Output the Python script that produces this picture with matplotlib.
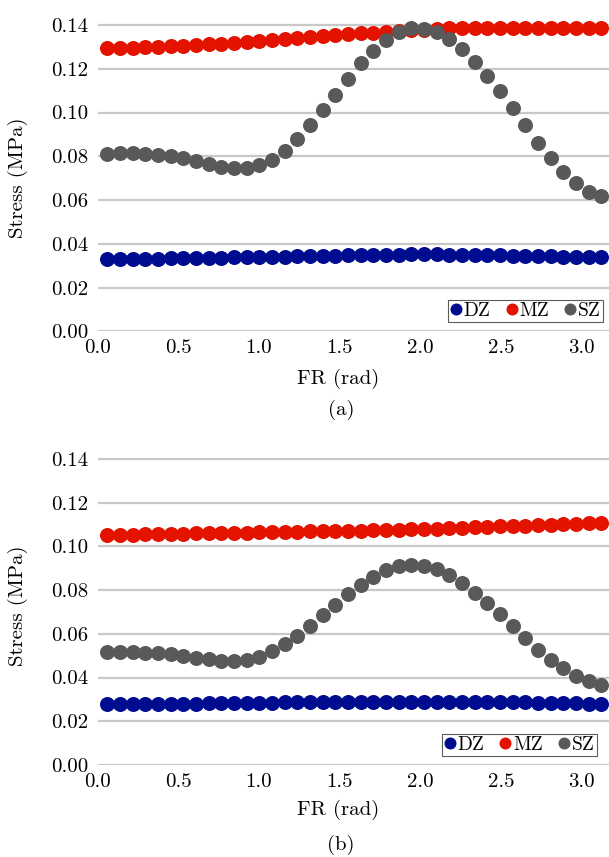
import matplotlib
matplotlib.use("Agg")
import matplotlib.pyplot as plt
from matplotlib.ticker import FormatStrFormatter

plt.rcParams['font.family'] = ['cmr10', 'DejaVu Serif']
plt.rcParams['mathtext.fontset'] = 'cm'
plt.rcParams['axes.formatter.use_mathtext'] = True

# FR (rad) sample positions
fr = [0.060, 0.139, 0.217, 0.296, 0.374, 0.453, 0.531, 0.610, 0.688, 0.767,
      0.845, 0.924, 1.002, 1.081, 1.159, 1.238, 1.316, 1.395, 1.473, 1.552,
      1.630, 1.709, 1.787, 1.866, 1.944, 2.023, 2.101, 2.180, 2.258, 2.337,
      2.415, 2.494, 2.572, 2.651, 2.729, 2.808, 2.886, 2.965, 3.043, 3.122]

# panel (a)
dz_a = [0.0332, 0.0332, 0.0332, 0.0333, 0.0333, 0.0334, 0.0334, 0.0335, 0.0336, 0.0337,
        0.0338, 0.0339, 0.0340, 0.0341, 0.0342, 0.0344, 0.0345, 0.0346, 0.0347, 0.0348,
        0.0349, 0.0350, 0.0351, 0.0351, 0.0352, 0.0352, 0.0352, 0.0351, 0.0351, 0.0350,
        0.0349, 0.0348, 0.0347, 0.0346, 0.0345, 0.0344, 0.0342, 0.0341, 0.0340, 0.0339]
mz_a = [0.1293, 0.1294, 0.1295, 0.1297, 0.1299, 0.1302, 0.1305, 0.1308, 0.1311, 0.1315,
        0.1319, 0.1323, 0.1327, 0.1331, 0.1336, 0.1340, 0.1344, 0.1349, 0.1353, 0.1357,
        0.1361, 0.1365, 0.1369, 0.1373, 0.1376, 0.1379, 0.1382, 0.1384, 0.1386, 0.1387,
        0.1388, 0.1388, 0.1388, 0.1388, 0.1387, 0.1387, 0.1386, 0.1386, 0.1385, 0.1385]
sz_a = [0.0812, 0.0816, 0.0816, 0.0812, 0.0808, 0.0803, 0.0791, 0.0777, 0.0765, 0.0752,
        0.0746, 0.0745, 0.0760, 0.0785, 0.0823, 0.0880, 0.0941, 0.1011, 0.1082, 0.1155,
        0.1226, 0.1283, 0.1332, 0.1367, 0.1385, 0.1382, 0.1367, 0.1335, 0.1289, 0.1233,
        0.1168, 0.1097, 0.1020, 0.0941, 0.0862, 0.0794, 0.0729, 0.0676, 0.0638, 0.0617]

# panel (b)
dz_b = [0.0279, 0.0279, 0.0279, 0.0280, 0.0280, 0.0280, 0.0281, 0.0281, 0.0282, 0.0282,
        0.0283, 0.0284, 0.0284, 0.0285, 0.0286, 0.0286, 0.0287, 0.0287, 0.0288, 0.0288,
        0.0289, 0.0289, 0.0290, 0.0290, 0.0290, 0.0290, 0.0290, 0.0289, 0.0289, 0.0288,
        0.0288, 0.0287, 0.0286, 0.0286, 0.0285, 0.0284, 0.0283, 0.0282, 0.0281, 0.0280]
mz_b = [0.1052, 0.1053, 0.1054, 0.1055, 0.1056, 0.1057, 0.1058, 0.1059, 0.1060, 0.1061,
        0.1062, 0.1063, 0.1064, 0.1065, 0.1066, 0.1067, 0.1068, 0.1069, 0.1070, 0.1071,
        0.1072, 0.1073, 0.1075, 0.1076, 0.1078, 0.1079, 0.1081, 0.1083, 0.1085, 0.1087,
        0.1089, 0.1091, 0.1093, 0.1095, 0.1097, 0.1099, 0.1101, 0.1103, 0.1105, 0.1106]
sz_b = [0.0515, 0.0515, 0.0515, 0.0514, 0.0511, 0.0506, 0.0500, 0.0491, 0.0485, 0.0477,
        0.0476, 0.0482, 0.0495, 0.0523, 0.0552, 0.0591, 0.0636, 0.0685, 0.0733, 0.0783,
        0.0824, 0.0862, 0.0894, 0.0909, 0.0917, 0.0912, 0.0897, 0.0870, 0.0832, 0.0788,
        0.0742, 0.0689, 0.0635, 0.0579, 0.0526, 0.0480, 0.0442, 0.0409, 0.0382, 0.0367]

names = ['DZ', 'MZ', 'SZ']
colors = ['#000c8f', '#e31300', '#595959']
yticks = [0.00, 0.02, 0.04, 0.06, 0.08, 0.10, 0.12, 0.14]
xticks = [0.0, 0.5, 1.0, 1.5, 2.0, 2.5, 3.0]

fig = plt.figure(figsize=(6.09, 8.57), dpi=100)
ax_a = fig.add_axes([0.1604, 0.6132, 0.8396, 0.3628])
ax_b = fig.add_axes([0.1604, 0.1074, 0.8396, 0.3622])


def draw_panel(ax, series, leg_x):
    for ys, name, c in zip(series, names, colors):
        ax.plot(fr, ys, 'o', color=c, ms=10.8, mew=0, label=name, clip_on=False)
    ax.set_xlim(0, 3.17)
    ax.set_ylim(0, 0.142)
    ax.set_xticks(xticks)
    ax.set_yticks(yticks)
    ax.xaxis.set_major_formatter(FormatStrFormatter('%.1f'))
    ax.yaxis.set_major_formatter(FormatStrFormatter('%.2f'))
    ax.tick_params(length=0, labelsize=15)
    ax.tick_params(axis='x', pad=5.5)
    ax.tick_params(axis='y', pad=7)
    ax.yaxis.grid(True, color='#c8c8c8', lw=1.6)
    ax.set_axisbelow(True)
    for s in ax.spines.values():
        s.set_visible(False)
    leg = ax.legend(loc='lower right', bbox_to_anchor=(leg_x, 0.03), ncol=3,
                    fontsize=14, frameon=True, fancybox=False, borderaxespad=0,
                    handlelength=0.6, handletextpad=0.1, columnspacing=0.8,
                    borderpad=0.1, markerscale=0.8)
    leg.get_frame().set_edgecolor('#333333')
    leg.get_frame().set_linewidth(0.8)


draw_panel(ax_a, [dz_a, mz_a, sz_a], 0.988)
draw_panel(ax_b, [dz_b, mz_b, sz_b], 0.976)

H = 857.0
for yl, yc in [(379, 178), (810, 606)]:
    fig.text(338 / 609, 1 - yl / H, 'FR (rad)', ha='center', va='center', fontsize=15)
    fig.text(18 / 609, 1 - yc / H, 'Stress (MPa)', ha='center', va='center',
             rotation=90, fontsize=15)
fig.text(341 / 609, 1 - 410 / H, '(a)', ha='center', va='center', fontsize=15)
fig.text(341 / 609, 1 - 845 / H, '(b)', ha='center', va='center', fontsize=15)

fig.savefig('out.png', dpi=100)
